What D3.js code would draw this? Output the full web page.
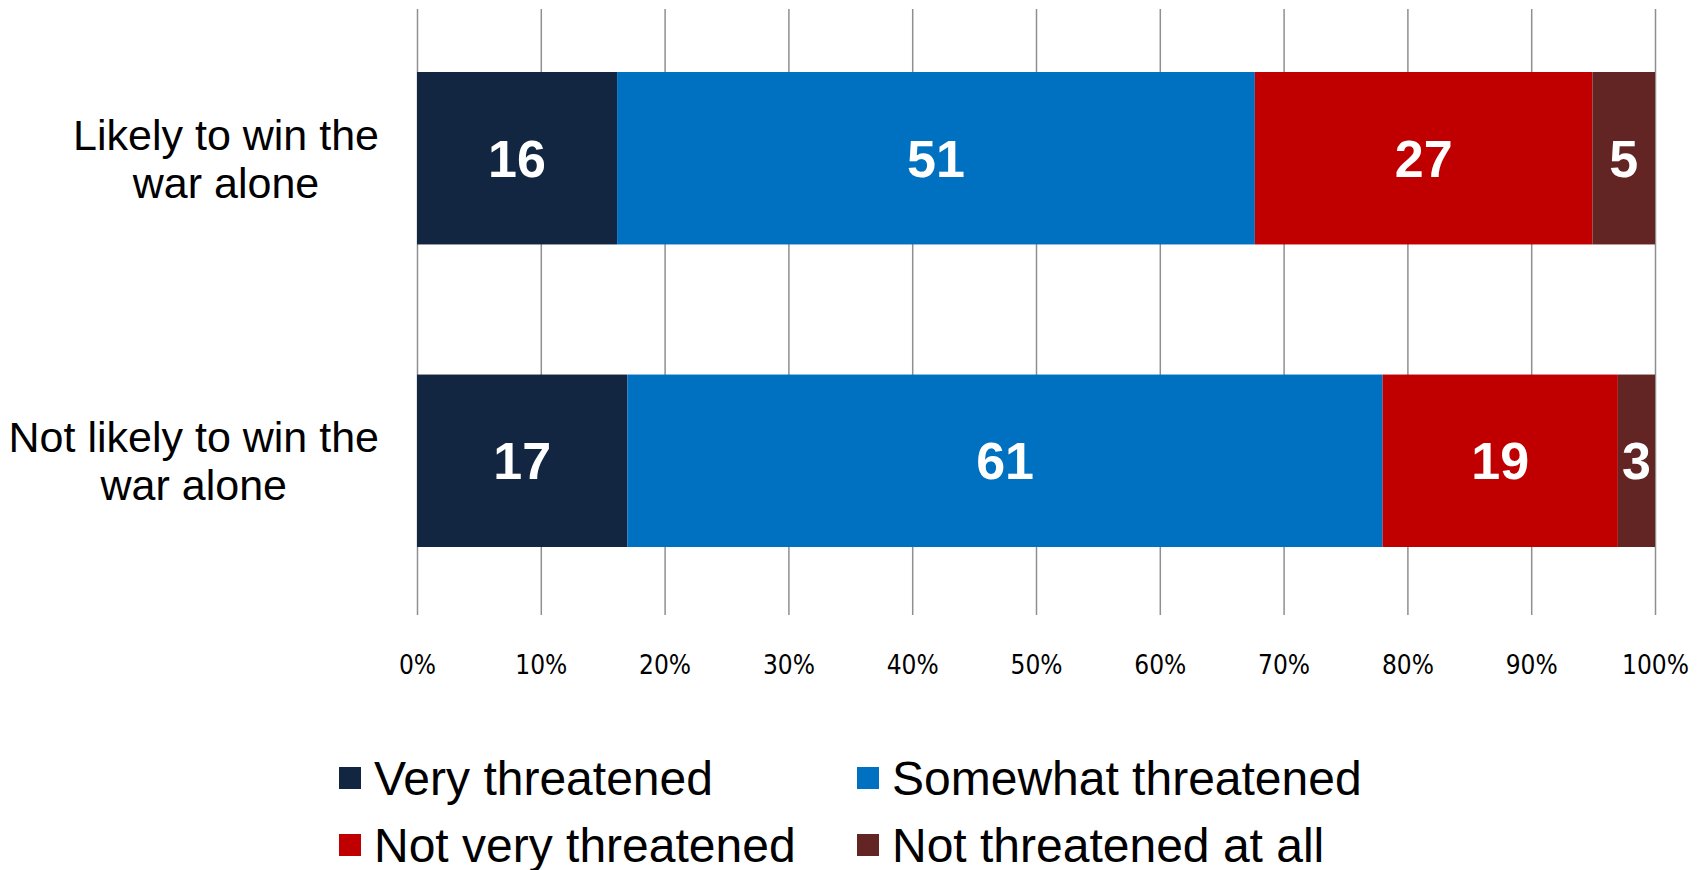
<!DOCTYPE html>
<html>
<head>
<meta charset="utf-8">
<script src="https://cdn.jsdelivr.net/npm/d3@7"></script>
<style>
  html, body { margin: 0; padding: 0; background: #fff; }
  svg { display: block; }
</style>
</head>
<body>
<svg id="chart" width="1706" height="870"></svg>
<script>
const categories = [
  ["Likely to win the", "war alone"],
  ["Not likely to win the", "war alone"]
];
const seriesNames = ["Very threatened", "Somewhat threatened", "Not very threatened", "Not threatened at all"];
const veryThreatened = [16, 17];
const somewhatThreatened = [51, 61];
const notVeryThreatened = [27, 19];
const notAtAll = [5, 3];
const tickValues = [0, 0.1, 0.2, 0.3, 0.4, 0.5, 0.6, 0.7, 0.8, 0.9, 1.0];
const colors = ["#132641", "#0070C0", "#C00000", "#632523"];

const seriesValues = [veryThreatened, somewhatThreatened, notVeryThreatened, notAtAll];
const rows = categories.map((c, i) => {
  const r = { key: i };
  seriesNames.forEach((s, j) => r[s] = seriesValues[j][i]);
  return r;
});

const svg = d3.select("#chart");
const x = d3.scaleLinear().domain([0, 1]).range([417, 1655]);
const y = d3.scaleBand().domain(d3.range(categories.length)).range([72, 547]).paddingInner(0.43).paddingOuter(0);

const stack = d3.stack().keys(seriesNames).offset(d3.stackOffsetExpand);
const stacked = stack(rows);

// gridlines
const axis = d3.axisBottom(x).tickValues(tickValues).tickFormat(d3.format(".0%")).tickSize(-606).tickPadding(0);
const gAxis = svg.append("g").attr("transform", "translate(0,615)").call(axis);
gAxis.select(".domain").remove();
gAxis.selectAll(".tick line").attr("stroke", "#8f8f8f").attr("stroke-width", 1.5);
gAxis.selectAll(".tick text")
  .attr("y", 50)
  .attr("dy", "0.35em")
  .attr("fill", "#000")
  .style("font-family", "'DejaVu Sans Condensed', 'DejaVu Sans', sans-serif")
  .style("font-stretch", "condensed")
  .style("font-size", "26px");

// bars
const layers = svg.append("g").selectAll("g").data(stacked).join("g")
  .attr("fill", (d, i) => colors[i]);
layers.selectAll("rect").data(d => d).join("rect")
  .attr("x", d => x(d[0]))
  .attr("width", d => x(d[1]) - x(d[0]))
  .attr("y", (d, i) => y(i))
  .attr("height", y.bandwidth());

// value labels
stacked.forEach((layer, si) => {
  svg.append("g").selectAll("text").data(layer).join("text")
    .attr("x", d => (x(d[0]) + x(d[1])) / 2)
    .attr("y", (d, i) => y(i) + y.bandwidth() / 2)
    .attr("dy", "0.36em")
    .attr("text-anchor", "middle")
    .attr("fill", "#fff")
    .style("font-family", "'Liberation Sans', Arial, sans-serif")
    .style("font-weight", "bold")
    .style("font-size", "52px")
    .text((d, i) => seriesValues[si][i]);
});

// category labels
const labelRight = 379;
categories.forEach((lines, i) => {
  const cy = y(i) + y.bandwidth() / 2;
  const t = svg.append("text")
    .attr("text-anchor", "middle")
    .attr("fill", "#000")
    .style("font-family", "'Liberation Sans', Arial, sans-serif")
    .style("font-size", "43px");
  const spans = lines.map((ln, k) => t.append("tspan")
    .attr("y", cy + (k - (lines.length - 1) / 2) * 48)
    .attr("dy", "0.36em")
    .text(ln));
  const w = d3.max(spans, s => s.node().getComputedTextLength());
  spans.forEach(s => s.attr("x", labelRight - w / 2));
});

// legend
const legendPos = [[339, 778], [857, 778], [339, 845], [857, 845]];
seriesNames.forEach((name, i) => {
  const [lx, ly] = legendPos[i];
  svg.append("rect").attr("x", lx).attr("y", ly - 11).attr("width", 22).attr("height", 22).attr("fill", colors[i]);
  svg.append("text").attr("x", lx + 35).attr("y", ly).attr("dy", "0.36em")
    .attr("fill", "#000")
    .style("font-family", "'Liberation Sans', Arial, sans-serif")
    .style("font-size", "48px")
    .text(name);
});
</script>
</body>
</html>
